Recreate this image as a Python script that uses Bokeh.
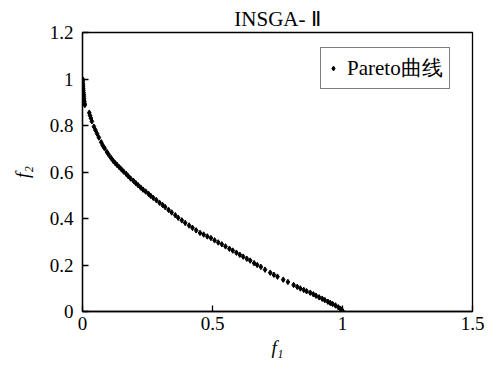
from bokeh.plotting import figure
from bokeh.models import FixedTicker, Legend, LegendItem, Range1d
from bokeh.embed import file_html
from bokeh.resources import INLINE

# ---- data ----
f1 = [0.000, 0.000, 0.001, 0.001, 0.002, 0.002, 0.003, 0.003, 0.004, 0.005,
      0.005, 0.006, 0.007, 0.008, 0.009, 0.026, 0.029, 0.032, 0.036, 0.044,
      0.050, 0.056, 0.063, 0.072, 0.078, 0.085, 0.094, 0.101, 0.110, 0.118,
      0.126, 0.133, 0.142, 0.150, 0.158, 0.168, 0.176, 0.185, 0.196, 0.205,
      0.214, 0.224, 0.233, 0.243, 0.254, 0.262, 0.272, 0.284, 0.296, 0.308,
      0.318, 0.331, 0.343, 0.357, 0.368, 0.382, 0.395, 0.410, 0.423, 0.437,
      0.452, 0.466, 0.480, 0.494, 0.508, 0.522, 0.536, 0.550, 0.565, 0.578,
      0.592, 0.605, 0.618, 0.632, 0.645, 0.660, 0.672, 0.686, 0.702, 0.722,
      0.736, 0.750, 0.772, 0.790, 0.812, 0.826, 0.838, 0.851, 0.862, 0.876,
      0.888, 0.898, 0.910, 0.922, 0.932, 0.944, 0.953, 0.962, 0.973, 0.984,
      0.992, 1.000]
f2 = [1.000, 0.995, 0.990, 0.982, 0.975, 0.968, 0.958, 0.950, 0.942, 0.933,
      0.925, 0.915, 0.905, 0.895, 0.888, 0.855, 0.843, 0.832, 0.818, 0.795,
      0.780, 0.765, 0.748, 0.728, 0.714, 0.702, 0.686, 0.674, 0.660, 0.648,
      0.638, 0.630, 0.620, 0.611, 0.602, 0.592, 0.582, 0.572, 0.562, 0.552,
      0.543, 0.533, 0.524, 0.516, 0.506, 0.498, 0.489, 0.479, 0.468, 0.458,
      0.449, 0.437, 0.426, 0.414, 0.403, 0.392, 0.381, 0.370, 0.360, 0.349,
      0.338, 0.331, 0.323, 0.316, 0.306, 0.297, 0.289, 0.280, 0.270, 0.262,
      0.253, 0.244, 0.236, 0.227, 0.219, 0.208, 0.200, 0.192, 0.180, 0.167,
      0.158, 0.150, 0.137, 0.127, 0.114, 0.106, 0.099, 0.093, 0.087, 0.081,
      0.074, 0.068, 0.061, 0.055, 0.049, 0.042, 0.037, 0.032, 0.026, 0.018,
      0.012, 0.003]

x_ticks = [0, 0.5, 1, 1.5]
x_tick_labels = ["0", "0.5", "1", "1.5"]
y_ticks = [0, 0.2, 0.4, 0.6, 0.8, 1, 1.2]
y_tick_labels = ["0", "0.2", "0.4", "0.6", "0.8", "1", "1.2"]
title_text = "INSGA- Ⅱ"
series_name = "Pareto曲线"
x_label = "f₁"
y_label = "f₂"

FONT = "Liberation Serif"

p = figure(width=498, height=368, output_backend="svg", toolbar_location=None,
           x_range=Range1d(0, 1.5), y_range=Range1d(0, 1.2),
           min_border_left=82, min_border_right=26,
           min_border_top=32, min_border_bottom=57)

p.title.text = title_text
p.title.align = "center"
p.title.text_font = FONT
p.title.text_font_size = "21px"
p.title.text_font_style = "normal"
p.title.text_color = "black"
p.title.standoff = 4

p.xgrid.visible = False
p.ygrid.visible = False
p.outline_line_color = "black"
p.outline_line_alpha = 1
p.outline_line_width = 1.3

p.xaxis.ticker = FixedTicker(ticks=x_ticks)
p.yaxis.ticker = FixedTicker(ticks=y_ticks)
p.xaxis.major_label_overrides = {t: l for t, l in zip(x_ticks, x_tick_labels)}
p.yaxis.major_label_overrides = {t: l for t, l in zip(y_ticks, y_tick_labels)}

for ax in (p.xaxis, p.yaxis):
    ax.major_tick_in = 6
    ax.major_tick_out = 0
    ax.minor_tick_line_color = None
    ax.axis_line_color = "black"
    ax.axis_line_width = 1.3
    ax.major_tick_line_color = "black"
    ax.major_tick_line_width = 1.3
    ax.major_label_text_font = FONT
    ax.major_label_text_font_size = "19px"
    ax.major_label_text_color = "black"
    ax.axis_label_text_font = FONT
    ax.axis_label_text_font_size = "19px"
    ax.axis_label_text_font_style = "italic"
    ax.axis_label_text_color = "black"

p.xaxis.axis_label = x_label
p.yaxis.axis_label = y_label
p.xaxis.major_label_standoff = 5
p.yaxis.major_label_standoff = 9
p.xaxis.axis_label_standoff = 4
p.yaxis.axis_label_standoff = 14

r = p.scatter(f1, f2, marker="diamond", size=5.5, color="black")

legend = Legend(items=[LegendItem(label=series_name, renderers=[r])],
                location=(238, 222))
legend.border_line_color = "black"
legend.border_line_width = 1.3
legend.label_text_font = FONT
legend.label_text_font_size = "21px"
legend.label_text_color = "black"
legend.glyph_width = 12
legend.glyph_height = 12
legend.padding = 6
legend.margin = 0
legend.label_standoff = 8
legend.background_fill_alpha = 1
p.add_layout(legend)

open("out.html", "w").write(file_html(p, INLINE))
